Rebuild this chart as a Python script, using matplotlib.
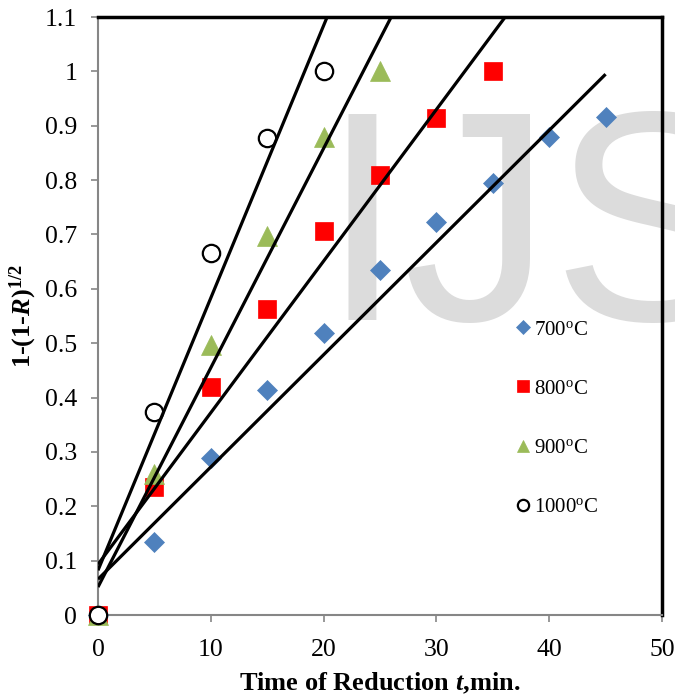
import numpy as np
import matplotlib
matplotlib.use('Agg')
import matplotlib.pyplot as plt

plt.rcParams['font.family'] = ['Liberation Serif', 'DejaVu Serif']
plt.rcParams['mathtext.fontset'] = 'custom'
plt.rcParams['mathtext.rm'] = 'Liberation Serif'
plt.rcParams['mathtext.it'] = 'Liberation Serif:italic'
plt.rcParams['mathtext.bf'] = 'Liberation Serif:bold'
plt.rcParams['mathtext.bfit'] = 'Liberation Serif:italic:bold'

# ---- data ----
t700 = [0, 5, 10, 15, 20, 25, 30, 35, 40, 45]
y700 = [0, 0.135, 0.289, 0.413, 0.519, 0.634, 0.722, 0.795, 0.880, 0.916]
t800 = [0, 5, 10, 15, 20, 25, 30, 35]
y800 = [0, 0.235, 0.420, 0.563, 0.707, 0.810, 0.915, 1.000]
t900 = [0, 5, 10, 15, 20, 25]
y900 = [0, 0.260, 0.497, 0.697, 0.880, 1.000]
t1000 = [0, 5, 10, 15, 20]
y1000 = [0, 0.373, 0.665, 0.878, 1.000]
labels = ['700$^{\\mathrm{o}}$C', '800$^{\\mathrm{o}}$C', '900$^{\\mathrm{o}}$C', '1000$^{\\mathrm{o}}$C']
trend_end = [45, 40, 30, 25]
xticks = [0, 10, 20, 30, 40, 50]
yticks = [0, 0.1, 0.2, 0.3, 0.4, 0.5, 0.6, 0.7, 0.8, 0.9, 1.0, 1.1]
ytick_labels = ['0', '0.1', '0.2', '0.3', '0.4', '0.5', '0.6', '0.7', '0.8', '0.9', '1', '1.1']

W, H = 675, 700
fig = plt.figure(figsize=(W / 100, H / 100), dpi=100)
fig.patch.set_facecolor('white')
ax = fig.add_axes([98 / W, 1 - 615 / H, 564 / W, 598 / H])
ax.set_facecolor('none')

# watermark
fig.text(320 / W, 1 - 320 / H, 'IJS', fontsize=215, color='#DCDCDC',
         family='Liberation Sans', ha='left', va='baseline', zorder=-1)

styles = [
    dict(marker='D', mfc='#4F81BD', mec='#4F81BD', ms=10.2, mew=0.5),
    dict(marker='s', mfc='#FF0000', mec='#FF0000', ms=12.5, mew=0.5),
    dict(marker='^', mfc='#9BBB59', mec='#9BBB59', ms=14.0, mew=0.5),
    dict(marker='o', mfc='white', mec='black', ms=12.5, mew=1.6),
]
data = [(t700, y700), (t800, y800), (t900, y900), (t1000, y1000)]

handles = []
for (t, y), st, lab in zip(data, styles, labels):
    h, = ax.plot(t, y, ls='none', clip_on=False, zorder=3, label=lab, **st)
    handles.append(h)

for (t, y), xe in zip(data, trend_end):
    coef = np.polyfit(t, y, 1)
    xs = np.array([0, xe])
    ax.plot(xs, np.polyval(coef, xs), color='black', lw=2.3, zorder=4,
            solid_capstyle='butt')

ax.set_xlim(0, 50)
ax.set_ylim(0, 1.1)
ax.set_xticks(xticks)
ax.set_xticklabels([str(v) for v in xticks])
ax.set_yticks(yticks)
ax.set_yticklabels(ytick_labels)
ax.tick_params(axis='both', direction='out', length=5, width=1.2,
               color='#868686', labelsize=18.5)
ax.tick_params(axis='y', pad=10)
ax.tick_params(axis='x', pad=12)

for s in ['left', 'bottom']:
    ax.spines[s].set_color('#868686')
    ax.spines[s].set_linewidth(1.5)
for s in ['top', 'right']:
    ax.spines[s].set_color('black')
    ax.spines[s].set_linewidth(2.5)

ax.set_xlabel(r'Time of Reduction $\mathbfit{t}$,min.', fontsize=19,
              fontweight='bold', labelpad=7)
ax.set_ylabel(r'1-(1-$\mathbfit{R}$)$^{\mathbf{1/2}}$', fontsize=19,
              fontweight='bold', labelpad=4)

fig.legend(handles=handles, labels=labels, loc='upper left',
           bbox_to_anchor=(515 / W, 1 - 320 / H), frameon=False,
           fontsize=15, markerscale=0.65, handlelength=0.8,
           handletextpad=0.1, labelspacing=1.9, borderpad=0,
           borderaxespad=0)

fig.savefig('out.png', dpi=100, facecolor='white')
